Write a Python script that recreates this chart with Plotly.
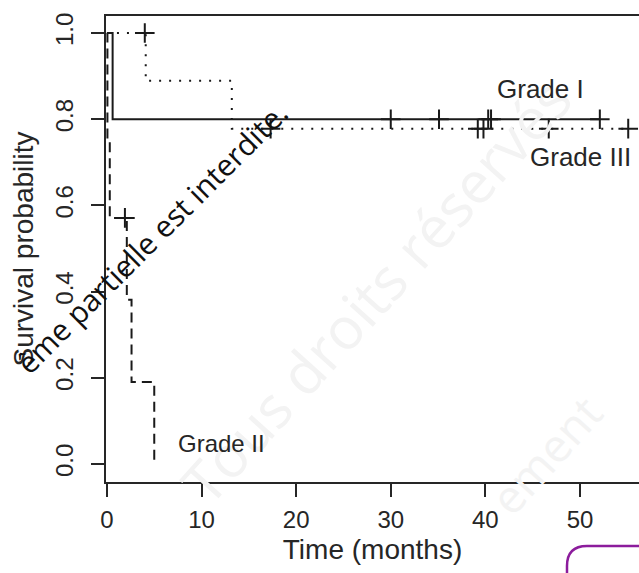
import plotly.graph_objects as go

# ---- data ----
grade1_t = [0, 0.6, 52.1]
grade1_s = [1.0, 0.8, 0.8]
grade1_cens_t = [30.0, 35.1, 40.3, 40.6, 52.1]
grade1_cens_s = [0.8, 0.8, 0.8, 0.8, 0.8]

grade2_t = [0, 0.05, 0.3, 2.1, 2.6, 5.0]
grade2_s = [1.0, 0.75, 0.571, 0.381, 0.19, 0.0]
grade2_cens_t = [1.9]
grade2_cens_s = [0.571]

grade3_t = [0, 4.1, 13.2, 55.1]
grade3_s = [1.0, 0.889, 0.778, 0.778]
grade3_cens_t = [4.0, 17.3, 39.2, 39.8, 46.7, 55.1]
grade3_cens_s = [1.0, 0.778, 0.778, 0.778, 0.778, 0.778]

x_ticks = [0, 10, 20, 30, 40, 50]
y_ticks = [0.0, 0.2, 0.4, 0.6, 0.8, 1.0]
y_tick_text = ["0.0", "0.2", "0.4", "0.6", "0.8", "1.0"]

W, H = 639, 573
ML, MR, MT, MB = 106, 0, 16, 91
PW, PH = W - ML - MR, H - MT - MB

def px(x):
    return (x - ML) / PW

def py(y):
    return (H - MB - y) / PH

INK = "#262626"
FONT = "Liberation Sans, Arial, sans-serif"

fig = go.Figure()

fig.add_trace(go.Scatter(x=grade1_t, y=grade1_s, mode="lines", line_shape="hv",
                         line=dict(color="#1a1a1a", width=2), showlegend=False))
fig.add_trace(go.Scatter(x=grade2_t, y=grade2_s, mode="lines", line_shape="hv",
                         line=dict(color="#1a1a1a", width=2, dash="10px,6px"), showlegend=False))
fig.add_trace(go.Scatter(x=grade3_t, y=grade3_s, mode="lines", line_shape="hv",
                         line=dict(color="#1a1a1a", width=2, dash="2px,8px"), showlegend=False))

for ct, cs in [(grade1_cens_t, grade1_cens_s), (grade2_cens_t, grade2_cens_s), (grade3_cens_t, grade3_cens_s)]:
    fig.add_trace(go.Scatter(x=ct, y=cs, mode="markers",
                             marker=dict(symbol="cross-thin", size=14,
                                         line=dict(color="#1a1a1a", width=2)),
                             showlegend=False))

def ann(x, y, text, size, color=INK, family=FONT, angle=0):
    return dict(x=px(x), y=py(y), xref="paper", yref="paper", text=text,
                showarrow=False, xanchor="center", yanchor="middle", textangle=angle,
                font=dict(family=family, size=size, color=color))

annotations = [
    # faint grey watermarks
    ann(375, 290, "Tous droits réservés", 58, color="#f3f3f3",
        family="Open Sans, sans-serif", angle=-48),
    ann(545, 455, "ement", 46, color="#f3f3f3", family="Open Sans, sans-serif", angle=-48),
    # black watermark
    ann(152, 238, "ême partielle est interdite.", 30, color="#111111",
        family="Open Sans, sans-serif", angle=-45),
    # curve labels
    ann(540, 89, "Grade I", 26),
    ann(580, 157, "Grade III", 26),
    ann(221, 443, "Grade II", 24),
]

# purple rounded rectangle at the bottom right (partly outside the page)
r = 20
x0, y0 = 567, 546
path = (f"M {px(x0)},{py(H + 5)} L {px(x0)},{py(y0 + r)} "
        f"Q {px(x0)},{py(y0)} {px(x0 + r)},{py(y0)} L {px(W + 5)},{py(y0)}")

fig.update_layout(
    width=W, height=H,
    margin=dict(l=ML, r=MR, t=MT, b=MB),
    paper_bgcolor="white", plot_bgcolor="white",
    annotations=annotations,
    shapes=[dict(type="path", path=path, xref="paper", yref="paper",
                 line=dict(color="#8c1c9c", width=2.5))],
    xaxis=dict(range=[-0.1, 56.24], tickvals=x_ticks, ticks="outside", ticklen=13,
               tickwidth=2, tickcolor=INK, showline=True, linewidth=2, linecolor=INK,
               mirror=True, showgrid=False, zeroline=False,
               tickfont=dict(family=FONT, size=24, color=INK), ticklabelstandoff=2,
               title=dict(text="Time (months)", standoff=8,
                          font=dict(family=FONT, size=28, color=INK))),
    yaxis=dict(range=[-0.0418, 1.0394], tickvals=y_ticks, ticktext=y_tick_text,
               tickangle=-90, ticks="outside", ticklen=13, tickwidth=2, tickcolor=INK,
               showline=True, linewidth=2, linecolor=INK, mirror=False,
               showgrid=False, zeroline=False,
               tickfont=dict(family=FONT, size=24, color=INK), ticklabelstandoff=8,
               title=dict(text="Survival probability", standoff=10,
                          font=dict(family=FONT, size=28, color=INK))),
)

fig.write_html("out.html")
